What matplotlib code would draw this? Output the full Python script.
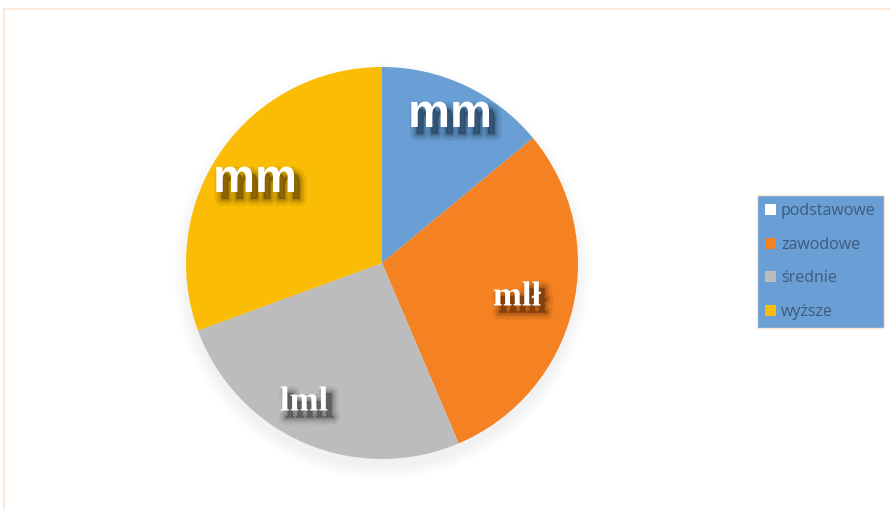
import matplotlib
matplotlib.use("Agg")
import matplotlib.pyplot as plt
import matplotlib.patheffects as pe
from matplotlib.colors import to_rgba
from matplotlib.patches import Patch, Circle

# data
categories = ["podstawowe", "zawodowe", "średnie", "wyższe"]
shares = [14.0, 29.6, 25.8, 30.6]
slice_labels = ["mm", "mlł", "lml", "mm"]
colors = ["#699fd4", "#f48122", "#bbbcbb", "#fbbc05"]
legend_colors = ["#ffffff", "#f48122", "#bbbcbb", "#fbbc05"]


class BlurShadow(pe.AbstractPathEffect):
    """drop shadow faked with a few stacked translucent strokes"""

    def __init__(self, color, offset=(4, -5)):
        super().__init__(offset=offset)
        self.color = color

    def draw_path(self, renderer, gc, tpath, affine, rgbFace=None):
        for w, a in [(10, 0.12), (6, 0.18), (3, 0.25), (0.5, 0.35)]:
            gc0 = renderer.new_gc()
            gc0.copy_properties(gc)
            gc0.set_linewidth(w)
            gc0.set_foreground(self.color)
            gc0.set_alpha(a)
            rgb = to_rgba(self.color, a)
            renderer.draw_path(gc0, tpath, affine + self._offset_transform(renderer), rgb)
            gc0.restore()


W, H = 890, 509
fig = plt.figure(figsize=(W / 100, H / 100), dpi=100)
ax = fig.add_axes([0, 0, 1, 1])
ax.set_xlim(0, W)
ax.set_ylim(0, H)
ax.set_aspect("equal")
ax.axis("off")

# light frame
ax.plot([4, W], [H - 9, H - 9], color="#fde8d8", lw=1.5)
ax.plot([4, 4], [H - 9, 0], color="#fde8d8", lw=1.5)

cx, cy, r = 382, H - 263, 196

# soft shadow under the pie
for k in range(7):
    ax.add_patch(Circle((cx, cy - 8), r + 2 * k, color="black",
                        alpha=0.007, lw=0, zorder=1))

wedges, _ = ax.pie(shares, colors=colors, startangle=90, counterclock=False,
                   center=(cx, cy), radius=r,
                   wedgeprops=dict(linewidth=0, zorder=2))
ax.set_xlim(0, W)
ax.set_ylim(0, H)

label_pos = [(450, 115), (517, 297), (304, 402), (255, 180)]
fonts = ["Liberation Sans", "Liberation Serif", "Liberation Serif", "Liberation Sans"]
sizes = [34, 25, 25, 34]
darks = ["#24405c", "#6b3208", "#4a4a4a", "#6b4d00"]
for lab, (x, y), fam, s, d in zip(slice_labels, label_pos, fonts, sizes, darks):
    ax.text(x, H - y, lab, ha="center", va="center", color="white",
            fontsize=s, fontweight="bold", family=fam, zorder=5,
            path_effects=[BlurShadow(d), pe.Normal()])

handles = [Patch(facecolor=c, edgecolor="none") for c in legend_colors]
leg = fig.legend(handles, categories, loc="lower left",
                 bbox_to_anchor=(757 / W, (H - 328) / H),
                 frameon=True, fancybox=False, facecolor="#699fd4",
                 edgecolor="#fde8d8", framealpha=1,
                 labelspacing=1.1, handlelength=0.7, handleheight=0.7,
                 handletextpad=0.3, borderpad=0.5, borderaxespad=0,
                 prop={"family": "Open Sans", "size": 11.5})
for t in leg.get_texts():
    t.set_color("#3f5a7a")

fig.savefig("out.png", dpi=100)
